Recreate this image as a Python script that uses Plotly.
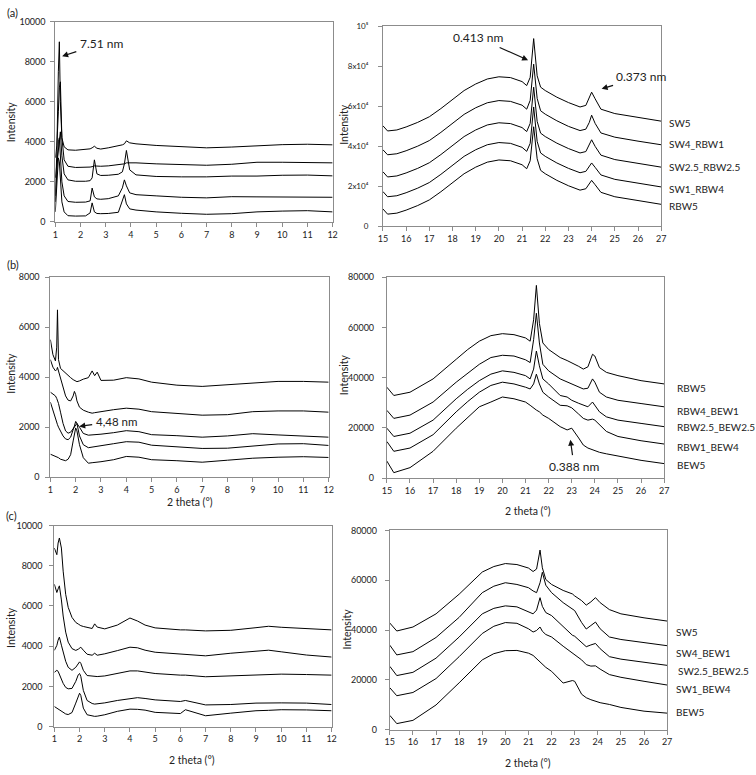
import plotly.graph_objects as go

# ---------------- Panel (a) left : 2theta 1-12 ----------------
X_AL = [1.0, 1.06, 1.12, 1.16, 1.2, 1.26, 1.35, 1.5, 1.8, 2.2, 2.38, 2.46, 2.55, 2.65, 2.8,
        3.1, 3.5, 3.66, 3.74, 3.82, 3.95, 4.2, 5, 6, 7, 8, 9, 10, 11, 12]
AL_1 = [1300, 3500, 7500, 9000, 6000, 4200, 3750, 3600, 3580, 3620, 3650, 3700, 3780, 3680, 3640,
        3700, 3800, 3850, 3900, 4050, 3950, 3900, 3820, 3760, 3700, 3740, 3800, 3860, 3880, 3850]
AL_2 = [3200, 3800, 5500, 6700, 7000, 4200, 3100, 2780, 2720, 2720, 2740, 2760, 2800, 2790, 2780,
        2800, 2850, 2880, 2900, 2950, 2950, 2950, 2900, 2860, 2830, 2880, 2980, 2980, 2960, 2950]
AL_3 = [2200, 3000, 3800, 4300, 4500, 3300, 2400, 2100, 2030, 2030, 2060, 2200, 3100, 2400, 2320,
        2330, 2380, 2500, 2900, 3570, 2600, 2350, 2270, 2250, 2250, 2290, 2290, 2330, 2340, 2300]
AL_4 = [1000, 2500, 4000, 4200, 3200, 2000, 1300, 1020, 980, 990, 1050, 1690, 1250, 1150, 1130,
        1160, 1300, 1700, 2100, 1800, 1450, 1360, 1300, 1230, 1200, 1260, 1250, 1240, 1250, 1230]
AL_5 = [500, 1800, 3200, 3000, 2000, 1000, 500, 310, 290, 300, 450, 950, 500, 420, 410,
        420, 480, 1000, 1360, 900, 650, 590, 500, 430, 380, 410, 500, 540, 560, 500]

# ---------------- Panel (a) right : 2theta 15-27 ----------------
X_AR = [15.0, 15.2, 15.6, 16, 16.5, 17, 17.5, 18, 18.5, 19, 19.5, 20, 20.5, 21, 21.2, 21.35, 21.5,
        21.65, 21.8, 22, 22.5, 23, 23.5, 23.75, 23.9, 24.0, 24.15, 24.4, 25, 26, 27]
AR_SW5 = [50300, 47700, 48200, 49700, 52000, 54800, 58900, 63300, 67900, 71200, 73700, 74800, 74400,
          72400, 70400, 74500, 93900, 75300, 69600, 67900, 64600, 61900, 59700, 60500, 64600, 67100,
          63800, 58600, 56400, 54400, 52600]
AR_SW4_RBW1 = [38300, 35800, 36300, 37800, 40100, 42900, 47000, 51400, 56000, 59300, 61800, 62900,
               62500, 60600, 58600, 63000, 81100, 64000, 57800, 56100, 52800, 50000, 47900, 48600,
               52000, 55600, 51500, 46700, 44600, 42600, 40800]
AR_SW25_RBW25 = [27300, 24700, 25200, 26700, 29000, 31800, 35900, 40300, 44900, 48200, 50700, 51800,
                 51400, 49400, 47400, 51500, 69600, 52500, 46600, 44900, 41600, 38900, 36700, 37400,
                 40500, 43300, 40000, 35600, 33400, 31400, 29600]
AR_SW1_RBW4 = [17400, 14800, 15300, 16800, 19100, 21900, 26000, 30400, 35000, 38300, 40800, 41900,
               41500, 39500, 37500, 41500, 59700, 42500, 36700, 35000, 31700, 29000, 26800, 27500,
               29800, 31700, 29500, 25700, 23500, 21500, 19700]
AR_RBW5 = [8700, 6100, 6600, 8100, 10400, 13200, 17300, 21700, 26300, 29600, 32100, 33200, 32800,
           30800, 28800, 32800, 49800, 33800, 28000, 26300, 23000, 20300, 18100, 18800, 21000, 23000,
           20800, 17000, 14800, 12800, 11000]
AR_NAMES = ["SW5", "SW4_RBW1", "SW2.5_RBW2.5", "SW1_RBW4", "RBW5"]
AR_LABEL_Y = [51500, 41200, 29700, 18500, 10300]
AR_TICKVALS = [0, 20000, 40000, 60000, 80000, 100000]
AR_TICKTEXT = ["0", "2x10⁴", "4x10⁴", "6x10⁴", "8x10⁴", "10⁵"]

# ---------------- Panel (b) left ----------------
X_BL = [1.0, 1.1, 1.2, 1.25, 1.28, 1.32, 1.4, 1.5, 1.6, 1.7, 1.8, 1.9, 1.95, 2.0, 2.05, 2.15, 2.3,
        2.5, 2.65, 2.75, 2.85, 3.0, 3.5, 4.0, 4.5, 5, 6, 7, 8, 9, 10, 11, 12]
BL_1 = [5500, 4900, 4650, 5200, 6690, 4700, 4350, 4250, 4150, 4050, 3980, 3900, 3870, 3830, 3820,
        3850, 3920, 3980, 4250, 4060, 4200, 3870, 3880, 3980, 3930, 3800, 3680, 3630, 3700, 3760,
        3830, 3830, 3800]
BL_2 = [4700, 4400, 4250, 4300, 4390, 4250, 3950, 3550, 3250, 3080, 3050, 3250, 3430, 3300, 3050,
        2800, 2680, 2600, 2560, 2580, 2600, 2620, 2700, 2760, 2720, 2620, 2550, 2480, 2500, 2620,
        2650, 2650, 2600]
BL_3 = [3400, 3330, 3250, 3150, 3080, 2950, 2600, 2150, 1850, 1760, 1800, 1950, 2050, 2120, 2150,
        2000, 1750, 1680, 1690, 1700, 1700, 1720, 1780, 1860, 1820, 1700, 1660, 1600, 1650, 1740,
        1690, 1630, 1600]
BL_4 = [3000, 2650, 2350, 2200, 2100, 2000, 1850, 1650, 1530, 1500, 1600, 1850, 2050, 2230, 2150,
        1650, 1300, 1180, 1200, 1220, 1230, 1260, 1340, 1420, 1400, 1280, 1200, 1150, 1160, 1230,
        1330, 1340, 1270]
BL_5 = [920, 880, 840, 820, 800, 780, 720, 690, 660, 720, 900, 1450, 1800, 1970, 1850, 1300, 780,
        560, 580, 600, 610, 620, 700, 830, 800, 700, 660, 600, 680, 760, 800, 820, 790]

# ---------------- Panel (b) right ----------------
X_BR = [15.0, 15.3, 16, 17, 18, 18.5, 19, 19.5, 20, 20.5, 21, 21.2, 21.35, 21.47, 21.6, 21.75, 22,
        22.5, 22.8, 23.0, 23.3, 23.5, 23.7, 23.9, 24.0, 24.2, 24.5, 25, 26, 27]
BR_RBW5 = [36200, 32900, 34200, 39500, 47300, 51200, 54500, 56700, 57500, 57100, 55800, 54500,
           63000, 76700, 61600, 53800, 51200, 48000, 46800, 46000, 44500, 43400, 44300, 49300,
           48600, 44000, 42100, 40800, 38800, 37500]
BR_RBW4_BEW1 = [27000, 23800, 25100, 30300, 38200, 41800, 45300, 48000, 48900, 48600, 47100, 46000,
                55100, 65600, 53800, 45300, 42700, 39500, 38300, 37500, 36300, 35500, 35800, 39500,
                38200, 34200, 32300, 31000, 29700, 28400]
BR_RBW25_BEW25 = [19900, 16600, 17900, 23100, 31600, 35400, 38800, 41400, 42700, 42100, 40800,
                  39500, 43400, 50600, 44700, 39500, 37500, 32900, 32300, 31000, 29800, 29000,
                  28400, 30300, 29000, 26400, 24400, 23100, 21800, 20500]
BR_RBW1_BEW4 = [14600, 10700, 12000, 17300, 26400, 30500, 34200, 36900, 38200, 37500, 36200, 35500,
                37500, 41400, 37500, 34200, 32300, 29000, 28800, 28000, 25500, 23800, 23100, 23500,
                23100, 21200, 18600, 16600, 14900, 13600]
BR_BEW5 = [6800, 2200, 4200, 10700, 19900, 24300, 28400, 30300, 32300, 31600, 30300, 29000, 27800,
           27100, 26400, 25100, 23800, 20500, 19200, 19900, 16000, 13200, 12000, 11300, 10900,
           10300, 9700, 8800, 7100, 5800]
BR_NAMES = ["RBW5", "RBW4_BEW1", "RBW2.5_BEW2.5", "RBW1_BEW4", "BEW5"]
BR_LABEL_Y = [35900, 26800, 20300, 12400, 5200]

# ---------------- Panel (c) left ----------------
X_CL = [1.0, 1.1, 1.15, 1.2, 1.28, 1.35, 1.45, 1.55, 1.7, 1.85, 1.95, 2.0, 2.05, 2.15, 2.3, 2.5,
        2.6, 2.7, 3.0, 3.5, 4.0, 4.3, 4.6, 5, 6, 6.2, 7, 8, 9, 9.5, 10, 11, 12]
CL_1 = [8880, 8550, 9130, 9380, 8880, 7730, 6580, 5930, 5430, 5180, 5100, 5050, 5020, 4980, 4930,
        4880, 5110, 4950, 4860, 5050, 5400, 5250, 5050, 4910, 4810, 4810, 4760, 4790, 4920, 4990,
        4940, 4870, 4810]
CL_2 = [7080, 6670, 6850, 7000, 6300, 5500, 4700, 4200, 3880, 3790, 3850, 3900, 3950, 3800, 3600,
        3550, 3650, 3550, 3620, 3780, 3950, 3920, 3800, 3700, 3620, 3600, 3520, 3650, 3750, 3800,
        3720, 3560, 3460]
CL_3 = [3790, 4040, 4300, 4450, 4050, 3700, 3250, 2950, 2800, 2950, 3150, 3220, 3150, 2800, 2540,
        2500, 2480, 2490, 2520, 2640, 2770, 2770, 2700, 2640, 2560, 2560, 2480, 2520, 2560, 2580,
        2610, 2590, 2560]
CL_4 = [2700, 2800, 2750, 2600, 2400, 2150, 1950, 1880, 1900, 2250, 2580, 2640, 2500, 1800, 1300,
        1150, 1120, 1130, 1180, 1300, 1400, 1440, 1400, 1330, 1250, 1300, 1080, 1100, 1170, 1180,
        1180, 1170, 1100]
CL_5 = [1000, 920, 900, 870, 800, 720, 630, 600, 700, 1170, 1580, 1660, 1550, 920, 590, 520, 510,
        520, 590, 760, 870, 860, 820, 710, 650, 840, 540, 670, 790, 810, 840, 830, 790]

# ---------------- Panel (c) right ----------------
X_CR = [15.0, 15.3, 16, 17, 18, 19, 19.5, 20, 20.5, 21, 21.2, 21.35, 21.5, 21.6, 21.75, 22, 22.5,
        22.9, 23.0, 23.3, 23.5, 23.7, 23.9, 24.1, 24.5, 25, 26, 27]
CR_SW5 = [42800, 39600, 41200, 46500, 54400, 63300, 65500, 66700, 66300, 64900, 63500, 64500, 72100,
          65000, 60300, 58300, 55900, 54500, 53700, 51800, 50000, 51300, 53000, 51000, 48200, 46500,
          44900, 43600]
CR_SW4_BEW1 = [33900, 30000, 31300, 37000, 45100, 55000, 57600, 59000, 58300, 57000, 55700, 55000,
               59000, 63200, 58000, 55000, 51000, 48500, 47800, 43000, 40400, 41800, 43200, 40500,
               37200, 36200, 34900, 33700]
CR_SW25_BEW25 = [25400, 21700, 23000, 28700, 37200, 46500, 48700, 49700, 49300, 47500, 46500, 48000,
                 53000, 49500, 47000, 45800, 41500, 37900, 37500, 35000, 33300, 34000, 34600, 32500,
                 29300, 28300, 27000, 25800]
CR_SW1_BEW4 = [16800, 13600, 14900, 20500, 29300, 38600, 41500, 43000, 42700, 40500, 39200, 39800,
               41200, 39500, 38200, 37200, 33500, 30700, 30200, 28000, 26100, 25500, 25600, 24300,
               22100, 21000, 19400, 17900]
CR_BEW5 = [5700, 2400, 3700, 9900, 18800, 28000, 30500, 31700, 31800, 30700, 29800, 28500, 26800,
           26100, 25000, 23400, 18700, 19700, 19400, 14200, 12800, 12000, 11300, 10800, 10100, 8900,
           7400, 6600]
CR_NAMES = ["SW5", "SW4_BEW1", "SW2.5_BEW2.5", "SW1_BEW4", "BEW5"]
CR_LABEL_Y = [39200, 30700, 23400, 16400, 7000]

W, H = 756, 775
FONT = "Lato, 'Open Sans', sans-serif"
AXC = "#8c8c8c"

fig = go.Figure()


def add_lines(xs, ys_list, axn):
    xa = "x" if axn == 1 else f"x{axn}"
    ya = "y" if axn == 1 else f"y{axn}"
    for ys in ys_list:
        fig.add_trace(go.Scatter(x=xs, y=ys, mode="lines", xaxis=xa, yaxis=ya,
                                 line=dict(color="black", width=1), showlegend=False,
                                 hoverinfo="skip"))


add_lines(X_AL, [AL_1, AL_2, AL_3, AL_4, AL_5], 1)
add_lines(X_AR, [AR_SW5, AR_SW4_RBW1, AR_SW25_RBW25, AR_SW1_RBW4, AR_RBW5], 2)
add_lines(X_BL, [BL_1, BL_2, BL_3, BL_4, BL_5], 3)
add_lines(X_BR, [BR_RBW5, BR_RBW4_BEW1, BR_RBW25_BEW25, BR_RBW1_BEW4, BR_BEW5], 4)
add_lines(X_CL, [CL_1, CL_2, CL_3, CL_4, CL_5], 5)
add_lines(X_CR, [CR_SW5, CR_SW4_BEW1, CR_SW25_BEW25, CR_SW1_BEW4, CR_BEW5], 6)


def px_dom(x0, x1):
    return [x0 / W, x1 / W]


def py_dom(top, bottom):
    return [1 - bottom / H, 1 - top / H]


panels = {
    1: dict(xd=px_dom(51, 332), yd=py_dom(16, 219), xr=[1, 12], yr=[0, 10000], dy=2000, so=3, fs=9),
    2: dict(xd=px_dom(383, 665), yd=py_dom(20.7, 223.5), xr=[15, 27], yr=[0, 100000], dy=None,
            so=8, fs=8),
    3: dict(xd=px_dom(46, 328), yd=py_dom(275, 478), xr=[1, 12], yr=[0, 8000], dy=2000, so=4, fs=9),
    4: dict(xd=px_dom(387, 668), yd=py_dom(275, 479), xr=[15, 27], yr=[0, 80000], dy=20000, so=6,
            fs=9),
    5: dict(xd=px_dom(50, 331), yd=py_dom(527, 731), xr=[1, 12], yr=[0, 10000], dy=2000, so=5, fs=9),
    6: dict(xd=px_dom(390, 671), yd=py_dom(532, 734), xr=[15, 27], yr=[0, 80000], dy=20000, so=6,
            fs=9),
}

layout = dict(width=W, height=H, margin=dict(l=0, r=0, t=0, b=0), paper_bgcolor="white",
              plot_bgcolor="white", showlegend=False, font=dict(family=FONT, color="#222", size=9))

for n, p in panels.items():
    xk = "xaxis" if n == 1 else f"xaxis{n}"
    yk = "yaxis" if n == 1 else f"yaxis{n}"
    xa = "x" if n == 1 else f"x{n}"
    ya = "y" if n == 1 else f"y{n}"
    layout[xk] = dict(domain=p["xd"], range=p["xr"], anchor=ya, dtick=1, tick0=p["xr"][0],
                      showline=True, mirror=True, linecolor=AXC, linewidth=1, ticks="outside",
                      ticklen=4, tickcolor=AXC, showgrid=False, zeroline=False,
                      tickfont=dict(size=9, family=FONT, color="#222"), fixedrange=True)
    yd = dict(domain=p["yd"], range=p["yr"], anchor=xa, showline=True, mirror=True,
              linecolor=AXC, linewidth=1, ticks="outside", ticklen=4, tickcolor=AXC,
              showgrid=False, zeroline=False, tickformat="d", ticklabelstandoff=p["so"],
              tickfont=dict(size=p["fs"], family=FONT, color="#222"), fixedrange=True)
    if p["dy"] is None:
        yd.update(tickmode="array", tickvals=AR_TICKVALS, ticktext=AR_TICKTEXT)
    else:
        yd.update(dtick=p["dy"], tick0=0)
    layout[yk] = yd

fig.update_layout(**layout)

ann = []


def paper_text(text, x, y, size=11, angle=0):
    ann.append(dict(text=text, x=x / W, y=1 - y / H, xref="paper", yref="paper", showarrow=False,
                    font=dict(size=size, family=FONT, color="#222"), textangle=angle,
                    xanchor="center", yanchor="middle"))


# panel letters
paper_text("(a)", 8, 7, 11)
paper_text("(b)", 8, 262, 11)
paper_text("(c)", 7, 517, 11)
# y titles
for (xx, yy) in [(6, 117), (344, 120), (6, 372), (343, 374), (6, 630), (347, 632)]:
    paper_text("Intensity", xx, yy, 10.5, -90)
# x titles
for (xx, yy) in [(187, 503), (530, 512), (190, 765), (530, 768)]:
    paper_text("2 theta (°)", xx, yy, 10.5)


def side_label(text, xpx, y, axn):
    ann.append(dict(text=text, x=xpx / W, y=y, xref="paper", yref=f"y{axn}", showarrow=False,
                    xanchor="left", yanchor="middle",
                    font=dict(size=10, family=FONT, color="#222")))


for name, yv in zip(AR_NAMES, AR_LABEL_Y):
    side_label(name, 670.5, yv, 2)
for name, yv in zip(BR_NAMES, BR_LABEL_Y):
    side_label(name, 679, yv, 4)
for name, yv in zip(CR_NAMES, CR_LABEL_Y):
    side_label(name, 678 if name != "SW2.5_BEW2.5" else 680, yv, 6)


def peak_note(text, tx, ty, hx, hy, axn, size=12):
    # text centred at (tx, ty); arrow runs from the text box to the peak at (hx, hy)
    xr = f"x{axn}" if axn > 1 else "x"
    yr = f"y{axn}" if axn > 1 else "y"
    ann.append(dict(text=text, x=hx, y=hy, ax=tx, ay=ty, xref=xr, yref=yr, axref=xr, ayref=yr,
                    showarrow=True, arrowhead=2, arrowsize=1, arrowwidth=1.2, arrowcolor="#111",
                    standoff=0, startstandoff=2,
                    font=dict(size=size, family=FONT, color="#222")))


peak_note("7.51 nm", 2.82, 8916, 1.27, 8276, 1)
peak_note("0.413 nm", 19.09, 94400, 21.26, 83100, 2)
peak_note("0.373 nm", 26.15, 74700, 24.43, 68800, 2)
peak_note("4,48 nm", 3.6, 2230, 2.14, 2032, 3, 11.5)
peak_note("0.388 nm", 23.1, 4840, 22.94, 15300, 4)

fig.update_layout(annotations=ann)
fig.write_html("out.html")
